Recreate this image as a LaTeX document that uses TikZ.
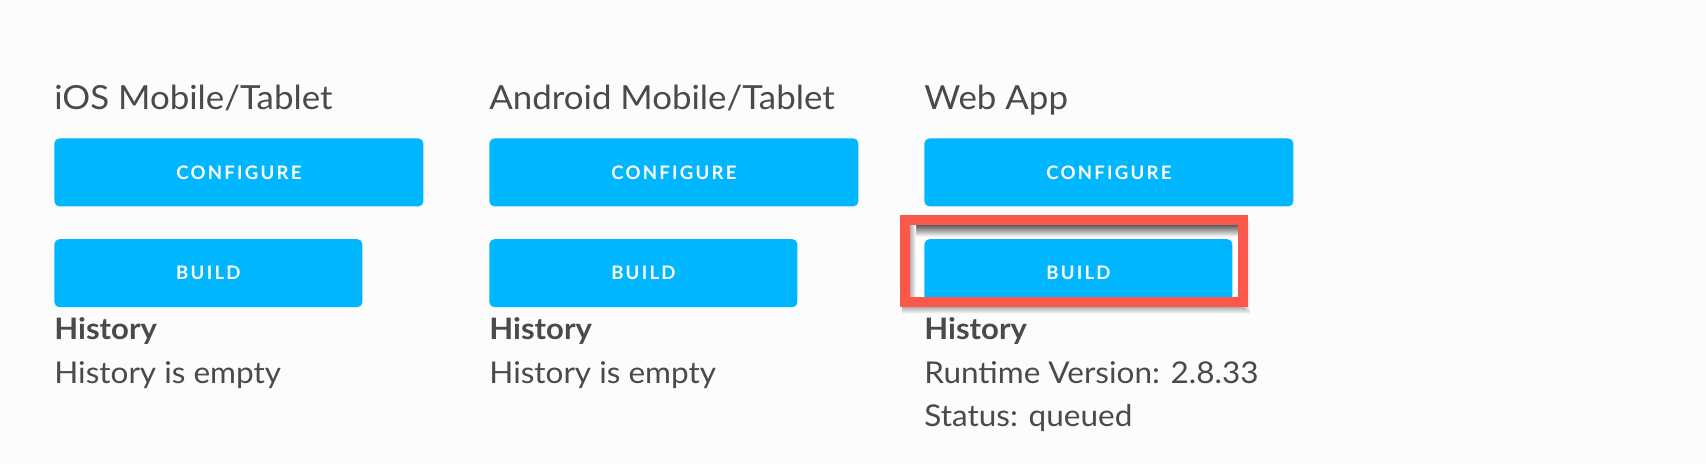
\documentclass[tikz,border=0pt]{standalone}
\usepackage{fontspec}
\setmainfont{Lato}[FakeStretch=1.05]
\newfontfamily\btnfont[LetterSpace=12]{Lato}
\usepackage{xcolor}
\usepackage{tikz}
\usetikzlibrary{positioning, backgrounds}
\definecolor{btnblue}{RGB}{0,183,255}
\definecolor{txtgray}{RGB}{74,74,74}
\definecolor{markred}{RGB}{250,88,75}
\tikzstyle{title} = [anchor=base west, inner sep=0pt, text=txtgray, font=\fontsize{16.6}{19}\selectfont]
\tikzstyle{button} = [rectangle, rounded corners=2.5pt, fill=btnblue, text=white, inner sep=0pt, minimum height=34pt, font=\btnfont\bfseries\fontsize{9.3}{11}\selectfont]
\tikzstyle{wide} = [button, minimum width=184.5pt]
\tikzstyle{short} = [button, minimum width=154pt]
\tikzstyle{head} = [title, font=\bfseries\fontsize{14.8}{18}\selectfont]
\tikzstyle{info} = [title, font=\fontsize{15}{18}\selectfont]
\tikzstyle{redframe} = [draw=markred, line width=5pt]

\begin{document}
\begin{tikzpicture}[x=0.5pt, y=-0.5pt]
\begin{scope}[on background layer]
\fill[white!99!black] (0,0) rectangle (1706,464);
\end{scope}
\useasboundingbox (0,0) rectangle (1706,464);

%Column 1==============================================
\node (ios) [title] at (54,110) {iOS Mobile/Tablet};
\node (conf1) [wide, below=14pt of ios.base west, anchor=north west] {CONFIGURE};
\node (build1) [short, below=16pt of conf1.south west, anchor=north west] {BUILD};
\node (hist1) [head, below=16pt of build1.south west, anchor=base west] {History};
\node (empty1) [info, below=22pt of hist1.base west, anchor=base west] {History is empty};

%Column 2==============================================
\node (android) [title] at (489,110) {Android Mobile/Tablet};
\node (conf2) [wide, below=14pt of android.base west, anchor=north west] {CONFIGURE};
\node (build2) [short, below=16pt of conf2.south west, anchor=north west] {BUILD};
\node (hist2) [head, below=16pt of build2.south west, anchor=base west] {History};
\node (empty2) [info, below=22pt of hist2.base west, anchor=base west] {History is empty};

%Column 3==============================================
\node (web) [title] at (924,110) {Web App};
\node (conf3) [wide, below=14pt of web.base west, anchor=north west] {CONFIGURE};
\node (build3) [short, below=16pt of conf3.south west, anchor=north west] {BUILD};
\node (hist3) [head, below=16pt of build3.south west, anchor=base west] {History};
\node (runtime) [info, below=22pt of hist3.base west, anchor=base west] {Runtime Version: 2.8.33};
\node (status) [info, below=21.5pt of runtime.base west, anchor=base west] {Status: queued};

%Red frame==============================================
\coordinate (fnw) at ([shift={(-19,-19)}]build3.north west);
\coordinate (fse) at ([shift={(10,-6)}]build3.south east);
\begin{scope}[on background layer]
\shade[top color=black!55, bottom color=white!99!black] ([shift={(-3,0)}]fse -| fnw) rectangle ([shift={(7,12)}]fse);
\shade[left color=black!30, right color=white!99!black] ([shift={(0,3)}]fnw -| fse) rectangle ([shift={(7,8)}]fse);
\fill[white] ([shift={(5,5)}]fnw) rectangle ([shift={(-5,-5)}]fse);
\shade[top color=black!65, bottom color=white] ([shift={(5,5)}]fnw) rectangle ([shift={(-5,17)}]fnw -| fse);
\shade[left color=black!30, right color=white] ([shift={(5,5)}]fnw) rectangle ([shift={(11,-5)}]fse -| fnw);
\end{scope}
\draw [redframe] (fnw) rectangle (fse);
\end{tikzpicture}
\end{document}
